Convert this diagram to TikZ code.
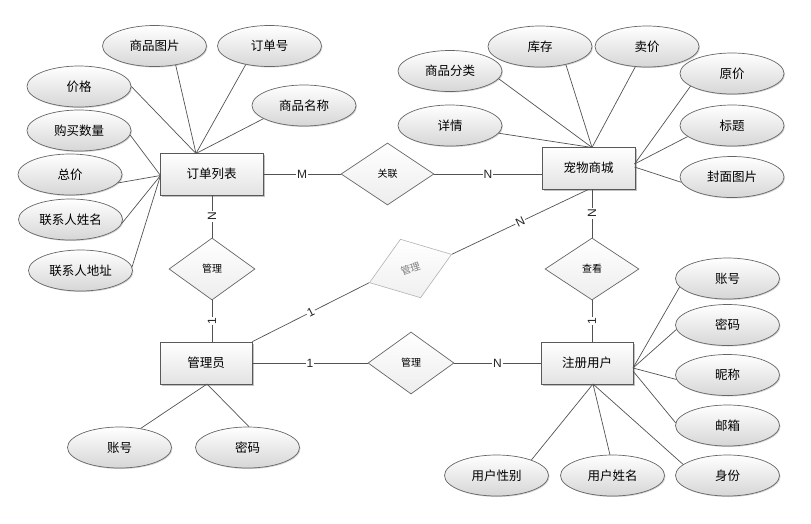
\documentclass[tikz,border=0pt]{standalone}
\usepackage{fontspec}
\setmainfont{Liberation Sans}
\newfontfamily\cjk{Noto Sans CJK SC}
\usetikzlibrary{shapes.geometric,shadows,calc}
\begin{document}
\begin{tikzpicture}[x=1pt,y=-1pt,
  ent/.style={rectangle,draw=black!65,line width=0.8pt,top color=white,bottom color=black!11,
    minimum width=#1,minimum height=42pt,inner sep=0pt,font=\cjk\fontsize{12.5}{14}\selectfont,
    drop shadow={shadow xshift=1.6pt,shadow yshift=-1.6pt,fill=black!30,opacity=0.8}},
  attr/.style={ellipse,draw=black!60,line width=0.7pt,top color=white,bottom color=black!16,
    minimum width=104pt,minimum height=41pt,inner sep=0pt,font=\cjk\fontsize{12.5}{14}\selectfont,
    drop shadow={shadow xshift=1pt,shadow yshift=-1pt,fill=black!25,opacity=0.7}},
  rel/.style={diamond,draw=black!60,line width=0.7pt,top color=white,bottom color=black!7,
    minimum width=#1,minimum height=62pt,inner sep=0pt,font=\cjk\fontsize{10}{10}\selectfont},
  relgray/.style={diamond,draw=black!30,line width=0.6pt,top color=white,bottom color=black!6,
    minimum width=87pt,minimum height=62pt,inner sep=0pt,text=black!50,font=\cjk\fontsize{10}{10}\selectfont},
  conn/.style={draw=black!68,line width=0.7pt},
  lbl/.style={fill=white,inner sep=1pt,text=black!85,font=\fontsize{12}{12}\selectfont}
]
\useasboundingbox (0,0) rectangle (811,523);

% entities
\node[ent=103pt] (E1) at (211.5,174) {订单列表};
\node[ent=93pt]  (E2) at (588.5,168) {宠物商城};
\node[ent=92pt]  (E3) at (206,363) {管理员};
\node[ent=92pt]  (E4) at (587,363) {注册用户};

% relationships
\node[rel=93pt] (R1) at (387.5,174) {关联};
\node[rel=86pt] (R2) at (212,269) {管理};
\node[rel=94pt] (R3) at (592,269) {查看};
\node[rel=86pt] (R4) at (411,363) {管理};
\node[relgray,rotate=19] (R5) at (410.5,268.5) {管理};

% attributes of 订单列表
\node[attr] (a1) at (154.5,46) {商品图片};
\node[attr] (a2) at (269.5,46) {订单号};
\node[attr] (a3) at (79,86.5) {价格};
\node[attr] (a4) at (304,105.5) {商品名称};
\node[attr] (a5) at (79,130.5) {购买数量};
\node[attr] (a6) at (70,174.5) {总价};
\node[attr] (a7) at (70.5,219.5) {联系人姓名};
\node[attr] (a8) at (80.5,270.5) {联系人地址};

% attributes of 宠物商城
\node[attr] (b1) at (540,46.5) {库存};
\node[attr] (b2) at (647,46.5) {卖价};
\node[attr] (b3) at (450,71) {商品分类};
\node[attr] (b4) at (732,73.5) {原价};
\node[attr] (b5) at (450,125.5) {详情};
\node[attr] (b6) at (732,125.5) {标题};
\node[attr] (b7) at (732,177) {封面图片};

% attributes of 管理员
\node[attr] (c1) at (119.5,447.5) {账号};
\node[attr] (c2) at (247.5,447.5) {密码};

% attributes of 注册用户
\node[attr] (d1) at (727.5,278.5) {账号};
\node[attr] (d2) at (727.5,325) {密码};
\node[attr] (d3) at (727.5,375) {昵称};
\node[attr] (d4) at (727.5,425.5) {邮箱};
\node[attr] (d5) at (727.5,475.5) {身份};
\node[attr] (d6) at (496.5,475.5) {用户性别};
\node[attr] (d7) at (612.5,475.5) {用户姓名};

% converge points
\coordinate (p1) at (196,153.5);
\coordinate (p2) at (160.5,175.5);
\coordinate (q1) at (592,147.5);
\coordinate (q2) at (634.5,164);
\coordinate (q3) at (634.5,167);
\coordinate (r1) at (207,384);
\coordinate (s1) at (633,368);
\coordinate (s2) at (633,371);
\coordinate (s3) at (593,384);

% attribute connectors
\draw[conn] (a1.318) -- (p1);
\draw[conn] (a2.218) -- (p1);
\draw[conn] (a3.east) -- (p1);
\draw[conn] (a4.198) -- (p1);
\draw[conn] (a5.355) -- (p2);
\draw[conn] (a6.350) -- (p2);
\draw[conn] (a7.356) -- (p2);
\draw[conn] (a8.4) -- (p2);
\draw[conn] (b1.325) -- (q1);
\draw[conn] (b2.240) -- (q1);
\draw[conn] (b3.351) -- (q1);
\draw[conn] (b5.351) -- (q1);
\draw[conn] (b4.197) -- (q2);
\draw[conn] (b6.194) -- (q2);
\draw[conn] (b7.186) -- (q3);
\draw[conn] (c1.42) -- (r1);
\draw[conn] (c2.86) -- (r1);
\draw[conn] (d1.190) -- (s1);
\draw[conn] (d2.185) -- (s1);
\draw[conn] (d3.185) -- (s1);
\draw[conn] (d4.177) -- (s2);
\draw[conn] (d5.166) -- (s3);
\draw[conn] (d6.24) -- (s3);
\draw[conn] (d7.97) -- (s3);

% relationship connectors
\draw[conn] (E1.east) -- node[lbl]{M} (R1.west);
\draw[conn] (R1.east) -- node[lbl]{N} (R1.east -| E2.west);
\draw[conn] (R2.north |- E1.south) -- node[lbl,rotate=90]{N} (R2.north);
\draw[conn] (R2.south) -- node[lbl,rotate=90]{1} (R2.south |- E3.north);
\draw[conn] (E3.north east) -- node[lbl,rotate=27]{1} (R5.west);
\draw[conn] (R5.east) -- node[lbl,rotate=26]{N} (E2.south);
\draw[conn] (R3.north |- E2.south) -- node[lbl,rotate=90]{N} (R3.north);
\draw[conn] (R3.south) -- node[lbl,rotate=90]{1} (R3.south |- E4.north);
\draw[conn] (E3.east) -- node[lbl]{1} (R4.west);
\draw[conn] (R4.east) -- node[lbl]{N} (E4.west);
\end{tikzpicture}
\end{document}
